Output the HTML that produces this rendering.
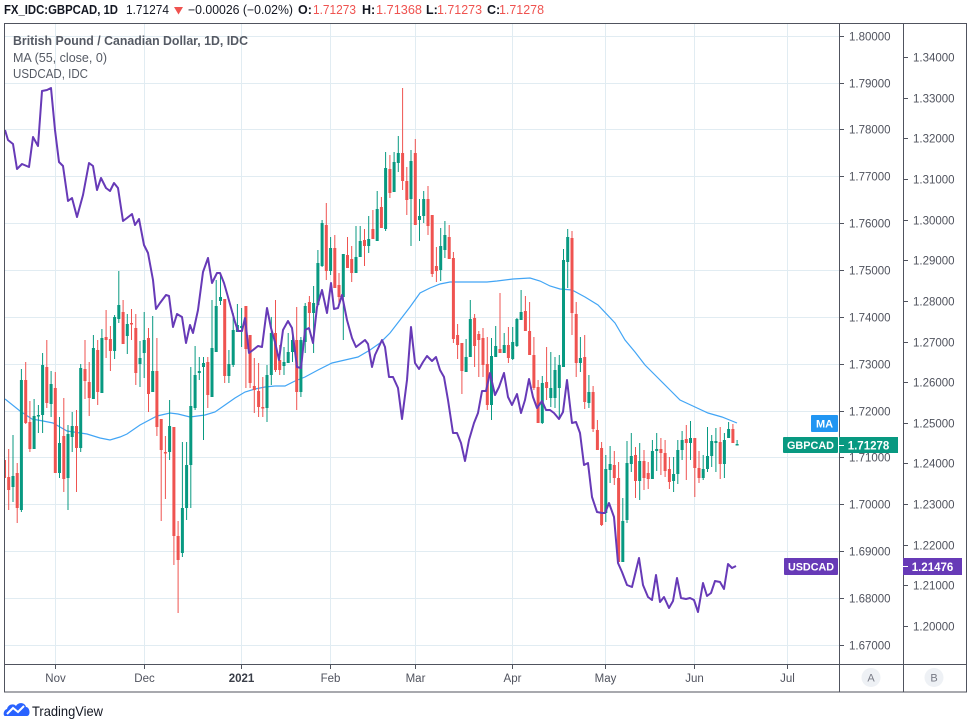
<!DOCTYPE html>
<html><head><meta charset="utf-8"><style>
html,body{margin:0;padding:0;background:#fff;}
svg{display:block;font-family:"Liberation Sans",Arial,sans-serif;}
</style></head><body>
<svg width="968" height="724" viewBox="0 0 968 724" xmlns="http://www.w3.org/2000/svg">
<rect width="968" height="724" fill="#fff"/>
<!-- header -->
<g font-size="12.5" fill="#131722">
<text x="4" y="14" font-weight="bold" textLength="114" lengthAdjust="spacingAndGlyphs">FX_IDC:GBPCAD, 1D</text>
<text x="126" y="14" textLength="43" lengthAdjust="spacingAndGlyphs">1.71274</text>
<polygon points="174,7 183,7 178.5,14.5" fill="#ef5350"/>
<text x="188" y="14" textLength="105" lengthAdjust="spacingAndGlyphs">−0.00026 (−0.02%)</text>
<text x="298" y="14" font-weight="bold">O:</text>
<text x="313" y="14" fill="#ef5350" textLength="43" lengthAdjust="spacingAndGlyphs">1.71273</text>
<text x="362" y="14" font-weight="bold">H:</text>
<text x="376" y="14" fill="#ef5350" textLength="46" lengthAdjust="spacingAndGlyphs">1.71368</text>
<text x="426" y="14" font-weight="bold">L:</text>
<text x="437" y="14" fill="#ef5350" textLength="45" lengthAdjust="spacingAndGlyphs">1.71273</text>
<text x="487" y="14" font-weight="bold">C:</text>
<text x="499" y="14" fill="#ef5350" textLength="45" lengthAdjust="spacingAndGlyphs">1.71278</text>
</g>
<!-- grid -->
<g stroke="#e1ecf2" stroke-width="1">
<path d="M4 36.5H839 M4 83.5H839 M4 129.5H839 M4 176.5H839 M4 223.5H839 M4 270.5H839 M4 317.5H839 M4 364.5H839 M4 411.5H839 M4 457.5H839 M4 504.5H839 M4 551.5H839 M4 598.5H839 M4 645.5H839"/>
<path d="M55.5 23V664 M144.5 23V664 M241.5 23V664 M330.5 23V664 M415.5 23V664 M512.5 23V664 M605.5 23V664 M694.5 23V664 M787.5 23V664"/>
</g>
<defs><clipPath id="pc"><rect x="5" y="23" width="834" height="641"/></clipPath></defs>
<g clip-path="url(#pc)">
<!-- MA -->
<polyline fill="none" stroke="#42a5f5" stroke-width="1.2" points="5,399 20,411 32,419 43,421 53,423 67,431 87,434 100,438 110,440 120,437 127,434 140,425 157,416 170,413 178,414 190,417 205,415 215,412 225,405 235,398 245,392 255,389 265,387 275,386 285,386 295,381 305,377 318,370 332,363 345,360 358,357 370,350 380,343 390,333 400,320 410,307 420,293 430,288 440,284 450,282 470,282 487,282 497,281 513,279 530,278 540,281 550,286 560,289 572,290 585,297 598,305 615,323 625,340 635,352 645,365 658,378 670,390 680,400 695,407 708,413 722,417 737,423"/>
<!-- candles green -->
<path fill="none" stroke="#089981" stroke-width="1" d="M13.0 435V502 M21.4 369V512 M34.1 399V449 M38.4 405V433 M42.6 353V433 M51.1 371V417 M59.5 417V478 M68.0 425V510 M72.2 412V452 M80.7 364V452 M93.4 335V399 M101.9 329V393 M114.6 315V359 M118.8 271V323 M127.3 314V354 M140.0 341V387 M144.2 312V378 M152.7 316V392 M169.6 400V460 M182.4 442V557 M186.6 442V520 M190.8 367V508 M195.1 346V410 M199.3 357V380 M203.5 357V440 M212.0 300V397 M216.2 280V352 M220.5 273V305 M228.9 350V383 M233.2 313V367 M237.4 304V332 M241.6 308V347 M267.0 365V422 M271.3 317V385 M284.0 347V375 M288.2 333V363 M292.5 333V362 M300.9 337V397 M305.2 303V353 M313.6 286V353 M317.9 250V305 M322.1 220V267 M330.6 237V275 M343.3 254V340 M356.0 226V273 M360.2 226V257 M368.7 216V253 M377.2 191V241 M385.6 152V231 M394.1 152V192 M398.3 136V172 M411.0 150V246 M419.5 199V241 M423.7 191V223 M440.7 228V281 M444.9 221V258 M466.1 339V372 M470.3 300V357 M491.5 338V420 M495.7 326V357 M504.2 333V353 M512.7 327V360 M516.9 318V347 M521.1 290V320 M542.3 376V424 M550.8 352V407 M555.0 357V408 M559.3 355V417 M563.5 249V367 M567.7 229V288 M580.4 337V372 M588.9 375V408 M605.8 455V522 M610.1 446V483 M622.8 498V562 M627.0 441V523 M631.3 433V472 M639.7 443V500 M652.4 440V479 M656.7 433V471 M673.6 457V492 M677.8 440V484 M682.1 431V460 M690.5 421V460 M703.2 455V480 M707.5 427V472 M711.7 435V467 M715.9 428V472 M724.4 433V478 M728.6 422V438 M737.1 440V445"/>
<path fill="#089981" d="M11.5 476h3V487h-3z M19.9 380h3V510h-3z M32.6 416h3V449h-3z M36.9 415h3V416.5h-3z M41.1 365h3V415h-3z M49.6 384h3V404h-3z M58.0 443h3V473h-3z M66.5 434h3V478h-3z M70.7 426h3V437h-3z M79.2 368h3V448h-3z M91.9 348h3V399h-3z M100.4 338h3V393h-3z M113.1 317h3V351h-3z M117.3 305h3V319h-3z M125.8 324h3V336h-3z M138.5 358h3V364h-3z M142.7 340h3V353h-3z M151.2 371h3V392h-3z M168.1 426h3V452h-3z M180.9 508h3V553h-3z M185.1 465h3V508h-3z M189.3 406h3V465h-3z M193.6 375h3V408h-3z M197.8 371h3V373h-3z M202.0 363h3V367h-3z M210.5 348h3V397h-3z M214.7 306h3V352h-3z M219.0 297h3V301h-3z M227.4 364h3V376h-3z M231.7 330h3V365h-3z M235.9 325h3V332h-3z M240.1 326h3V328h-3z M265.5 375h3V408h-3z M269.8 333h3V375h-3z M282.5 362h3V366h-3z M286.7 352h3V363h-3z M291.0 340h3V352h-3z M299.4 340h3V392h-3z M303.7 306h3V342h-3z M312.1 303h3V313h-3z M316.4 263h3V305h-3z M320.6 223h3V266h-3z M329.1 248h3V271h-3z M341.8 254h3V297h-3z M354.5 257h3V273h-3z M358.7 241h3V257h-3z M367.2 239h3V246h-3z M375.7 209h3V241h-3z M384.1 168h3V229h-3z M392.6 162h3V192h-3z M396.8 153h3V163h-3z M409.5 161h3V199h-3z M418.0 216h3V220h-3z M422.2 199h3V216h-3z M439.2 246h3V270h-3z M443.4 235h3V250h-3z M464.6 357h3V372h-3z M468.8 319h3V357h-3z M490.0 356h3V405h-3z M494.2 346h3V357h-3z M502.7 345h3V353h-3z M511.2 342h3V359h-3z M515.4 319h3V346h-3z M519.6 312h3V320h-3z M540.8 383h3V423h-3z M549.3 388h3V398h-3z M553.5 370h3V398h-3z M557.8 365h3V388h-3z M562.0 260h3V367h-3z M566.2 237h3V262h-3z M578.9 358h3V363h-3z M587.4 392h3V403h-3z M604.3 469h3V513h-3z M608.6 464h3V470h-3z M621.3 521h3V562h-3z M625.5 463h3V520h-3z M629.8 456h3V464h-3z M638.2 461h3V481h-3z M650.9 451h3V479h-3z M655.2 449h3V451h-3z M672.1 474h3V481h-3z M676.3 450h3V474h-3z M680.6 440h3V450h-3z M689.0 438h3V443h-3z M701.7 469h3V478h-3z M706.0 456h3V469h-3z M710.2 441h3V456h-3z M714.4 441h3V443h-3z M722.9 440h3V464h-3z M727.1 429h3V438h-3z M735.6 444h3V445.5h-3z"/>
<!-- candles red -->
<path fill="none" stroke="#ef5350" stroke-width="1" d="M4.5 460V478 M8.7 449V510 M17.2 463V523 M25.7 362V424 M29.9 401V452 M46.8 340V408 M55.3 372V473 M63.8 398V492 M76.5 410V492 M85.0 340V399 M89.2 362V416 M97.7 340V405 M106.1 310V358 M110.4 326V371 M123.1 300V344 M131.5 309V340 M135.8 314V385 M148.5 328V412 M156.9 338V436 M161.2 419V521 M165.4 436V499 M173.9 427V565 M178.1 521V613 M207.8 357V408 M224.7 299V383 M245.9 306V388 M250.1 335V388 M254.3 358V413 M258.6 363V417 M262.8 377V417 M275.5 300V372 M279.7 345V375 M296.7 307V410 M309.4 296V327 M326.3 203V280 M334.8 235V288 M339.0 273V307 M347.5 237V268 M351.7 246V282 M364.5 229V266 M372.9 210V239 M381.4 197V228 M389.9 155V198 M402.6 88V190 M406.8 167V215 M415.3 139V225 M428.0 186V235 M432.2 215V277 M436.4 247V282 M449.2 225V259 M453.4 252V343 M457.6 324V359 M461.9 343V394 M474.6 314V367 M478.8 331V377 M483.0 328V377 M487.3 337V410 M500.0 293V353 M508.4 327V363 M525.4 296V331 M529.6 302V355 M533.9 337V390 M538.1 380V423 M546.6 347V400 M572.0 231V335 M576.2 302V377 M584.7 335V409 M593.1 386V432 M597.4 420V450 M601.6 442V526 M614.3 451V485 M618.6 462V562 M635.5 447V498 M644.0 450V490 M648.2 462V489 M660.9 438V475 M665.1 440V477 M669.4 457V489 M686.3 425V480 M694.8 438V497 M699.0 451V483 M720.2 427V479 M732.9 424V443"/>
<path fill="#ef5350" d="M3.0 460h3V478h-3z M7.2 477h3V490h-3z M15.7 473h3V508h-3z M24.2 380h3V423h-3z M28.4 422h3V449h-3z M45.3 367h3V403h-3z M53.8 388h3V473h-3z M62.3 436h3V479h-3z M75.0 426h3V448h-3z M83.5 369h3V381h-3z M87.7 382h3V398h-3z M96.2 350h3V392h-3z M104.6 337h3V340h-3z M108.9 339h3V351h-3z M121.6 312h3V344h-3z M130.0 323h3V324.5h-3z M134.3 328h3V373h-3z M147.0 338h3V394h-3z M155.4 371h3V427h-3z M159.7 419h3V450h-3z M163.9 452h3V453.5h-3z M172.4 427h3V536h-3z M176.6 536h3V560h-3z M206.3 362h3V395h-3z M223.2 299h3V376h-3z M244.4 306h3V349h-3z M248.6 335h3V383h-3z M252.8 386h3V390h-3z M257.1 391h3V407h-3z M261.3 407h3V408.5h-3z M274.0 333h3V370h-3z M278.2 360h3V370h-3z M295.2 340h3V392h-3z M307.9 302h3V313h-3z M324.8 225h3V271h-3z M333.3 248h3V288h-3z M337.5 285h3V297h-3z M346.0 255h3V268h-3z M350.2 259h3V273h-3z M363.0 240h3V246h-3z M371.4 229h3V239h-3z M379.9 207h3V228h-3z M388.4 169h3V193h-3z M401.1 153h3V181h-3z M405.3 181h3V200h-3z M413.8 153h3V225h-3z M426.5 199h3V226h-3z M430.7 215h3V274h-3z M434.9 266h3V271h-3z M447.7 237h3V259h-3z M451.9 258h3V339h-3z M456.1 335h3V345h-3z M460.4 343h3V371h-3z M473.1 318h3V346h-3z M477.3 334h3V340h-3z M481.5 338h3V365h-3z M485.8 364h3V405h-3z M498.5 349h3V353h-3z M506.9 345h3V358h-3z M523.9 311h3V331h-3z M528.1 331h3V355h-3z M532.4 355h3V388h-3z M536.6 387h3V423h-3z M545.1 382h3V388h-3z M570.5 238h3V313h-3z M574.7 314h3V363h-3z M583.2 357h3V402h-3z M591.6 392h3V429h-3z M595.9 430h3V450h-3z M600.1 448h3V525h-3z M612.8 465h3V478h-3z M617.1 478h3V562h-3z M634.0 455h3V481h-3z M642.5 461h3V478h-3z M646.7 473h3V479h-3z M659.4 449h3V453h-3z M663.6 453h3V471h-3z M667.9 469h3V482h-3z M684.8 439h3V443h-3z M693.3 438h3V468h-3z M697.5 468h3V478h-3z M718.7 442h3V464h-3z M731.4 429h3V443h-3z"/>
<!-- USDCAD -->
<polyline fill="none" stroke="#673ab7" stroke-width="2" stroke-linejoin="round" points="5,130 8,140 13,144 17,169 22,164 29,167 33,137 38,146 42,91 47,90 51,88 55,130 59,162 63,166 68,201 72,198 77,217 83,195 89,163 93,166 97,190 101,178 106,188 110,191 114,183 118,188 123,221 127,218 132,214 135,225 139,219 144,245 148,253 153,280 156,309 160,303 166,295 169,296 173,327 177,314 182,317 186,343 190,325 193,333 198,310 203,272 208,258 212,283 217,273 220,273 224,283 228,297 235,322 238,331 242,331 245,318 249,353 253,350 258,346 262,347 267,308 271,328 275,342 279,360 283,330 288,321 292,328 297,367 301,368 305,330 309,328 313,343 317,307 322,290 327,313 331,283 334,309 338,308 342,295 347,320 352,338 356,347 365,340 368,344 372,367 375,355 382,340 385,347 389,377 393,377 398,388 402,419 407,380 411,327 415,363 419,369 423,362 427,356 432,361 436,357 440,370 444,377 448,400 453,433 457,433 461,443 465,461 469,440 474,423 478,413 482,391 486,391 490,373 495,395 499,387 504,373 508,397 512,405 517,394 521,413 525,400 529,379 533,397 537,408 542,401 546,410 550,410 554,413 559,419 563,412 567,380 572,423 576,422 580,433 584,465 588,463 592,497 597,512 602,513 605,513 609,503 614,517 618,563 622,572 627,585 632,587 639,558 643,585 648,597 652,600 656,575 660,602 664,597 669,608 673,601 677,578 681,598 686,599 690,598 694,600 698,612 703,583 707,596 711,593 715,581 720,582 724,589 728,564 732,568 736,566"/>
</g>
<!-- legend -->
<g font-size="13" fill="#555a64">
<text x="13" y="45" font-weight="bold" textLength="235" lengthAdjust="spacingAndGlyphs">British Pound / Canadian Dollar, 1D, IDC</text>
<text x="13" y="62" textLength="94" lengthAdjust="spacingAndGlyphs">MA (55, close, 0)</text>
<text x="13" y="78" textLength="75" lengthAdjust="spacingAndGlyphs">USDCAD, IDC</text>
</g>
<!-- frame -->
<g fill="none" stroke="#50535e" stroke-width="1">
<rect x="4.5" y="23.5" width="962" height="668.5"/>
<path d="M839.5 23V692 M903.5 23V692 M4 664.5H967"/>
</g>
<!-- axis ticks -->
<g stroke="#50535e" stroke-width="1">
<path d="M839 36.5h5 M839 83.5h5 M839 129.5h5 M839 176.5h5 M839 223.5h5 M839 270.5h5 M839 317.5h5 M839 364.5h5 M839 411.5h5 M839 457.5h5 M839 504.5h5 M839 551.5h5 M839 598.5h5 M839 645.5h5"/>
<path d="M903 57.5h5 M903 98.5h5 M903 138.5h5 M903 179.5h5 M903 220.5h5 M903 260.5h5 M903 301.5h5 M903 342.5h5 M903 382.5h5 M903 423.5h5 M903 463.5h5 M903 504.5h5 M903 545.5h5 M903 585.5h5 M903 626.5h5"/>
<path d="M55.5 664v5 M144.5 664v5 M241.5 664v5 M330.5 664v5 M415.5 664v5 M512.5 664v5 M605.5 664v5 M694.5 664v5 M787.5 664v5"/>
</g>
<g font-size="11.5" fill="#50535e">
<text x="849" y="40.5">1.80000</text>
<text x="849" y="87.5">1.79000</text>
<text x="849" y="133.5">1.78000</text>
<text x="849" y="180.5">1.77000</text>
<text x="849" y="227.5">1.76000</text>
<text x="849" y="274.5">1.75000</text>
<text x="849" y="321.5">1.74000</text>
<text x="849" y="368.5">1.73000</text>
<text x="849" y="415.5">1.72000</text>
<text x="849" y="461.5">1.71000</text>
<text x="849" y="508.5">1.70000</text>
<text x="849" y="555.5">1.69000</text>
<text x="849" y="602.5">1.68000</text>
<text x="849" y="649.5">1.67000</text>
<text x="913" y="61.5">1.34000</text>
<text x="913" y="102.5">1.33000</text>
<text x="913" y="142.5">1.32000</text>
<text x="913" y="183.5">1.31000</text>
<text x="913" y="224.5">1.30000</text>
<text x="913" y="264.5">1.29000</text>
<text x="913" y="305.5">1.28000</text>
<text x="913" y="346.5">1.27000</text>
<text x="913" y="386.5">1.26000</text>
<text x="913" y="427.5">1.25000</text>
<text x="913" y="467.5">1.24000</text>
<text x="913" y="508.5">1.23000</text>
<text x="913" y="549.5">1.22000</text>
<text x="913" y="589.5">1.21000</text>
<text x="913" y="630.5">1.20000</text>
</g>
<g font-size="11.5" fill="#50535e" text-anchor="middle">
<text x="55.5" y="682">Nov</text>
<text x="144.5" y="682">Dec</text>
<text x="241.5" y="682" font-weight="bold" fill="#3a3e48">2021</text>
<text x="330.5" y="682">Feb</text>
<text x="415.5" y="682">Mar</text>
<text x="512.5" y="682">Apr</text>
<text x="605.5" y="682">May</text>
<text x="694.5" y="682">Jun</text>
<text x="787.5" y="682">Jul</text>
</g>
<!-- A/B buttons -->
<circle cx="871" cy="677.5" r="9.5" fill="#eef1f5"/>
<circle cx="934" cy="677.5" r="9.5" fill="#eef1f5"/>
<g font-size="11" fill="#787b86" text-anchor="middle">
<text x="871" y="681.5">A</text>
<text x="934" y="681.5">B</text>
</g>
<!-- price labels -->
<rect x="811" y="415" width="27" height="17" rx="1" fill="#2196f3"/>
<text x="824.5" y="427.5" font-size="11" font-weight="bold" fill="#fff" text-anchor="middle">MA</text>
<rect x="783" y="437" width="55" height="16" rx="1" fill="#089981"/>
<text x="810.5" y="449" font-size="11" font-weight="bold" fill="#fff" text-anchor="middle" textLength="47" lengthAdjust="spacingAndGlyphs">GBPCAD</text>
<rect x="839" y="437" width="59" height="16" fill="#089981"/>
<path d="M839 445.5h5" stroke="#fff" stroke-width="1"/>
<text x="868.5" y="449.5" font-size="11.5" font-weight="bold" fill="#fff" text-anchor="middle">1.71278</text>
<rect x="784" y="558" width="54" height="17" rx="1" fill="#673ab7"/>
<text x="811" y="570.5" font-size="11" font-weight="bold" fill="#fff" text-anchor="middle" textLength="46" lengthAdjust="spacingAndGlyphs">USDCAD</text>
<rect x="903" y="558" width="59" height="17" fill="#673ab7"/>
<path d="M903 566.5h5" stroke="#fff" stroke-width="1"/>
<text x="932.5" y="571" font-size="11.5" font-weight="bold" fill="#fff" text-anchor="middle">1.21476</text>
<!-- TradingView logo -->
<g>
<path d="M5 716 C3 716 3 710 7 709 C8 704 14 703 16 706 C18 702 25 702 26 707 C30 707 31 716 27 716 Z" fill="#2962ff"/>
<polyline points="7,714 13,708 18,712 24,706" fill="none" stroke="#fff" stroke-width="2"/>
<text x="32" y="716" font-size="14" fill="#131722" textLength="71" lengthAdjust="spacingAndGlyphs">TradingView</text>
</g>
</svg>
</body></html>
